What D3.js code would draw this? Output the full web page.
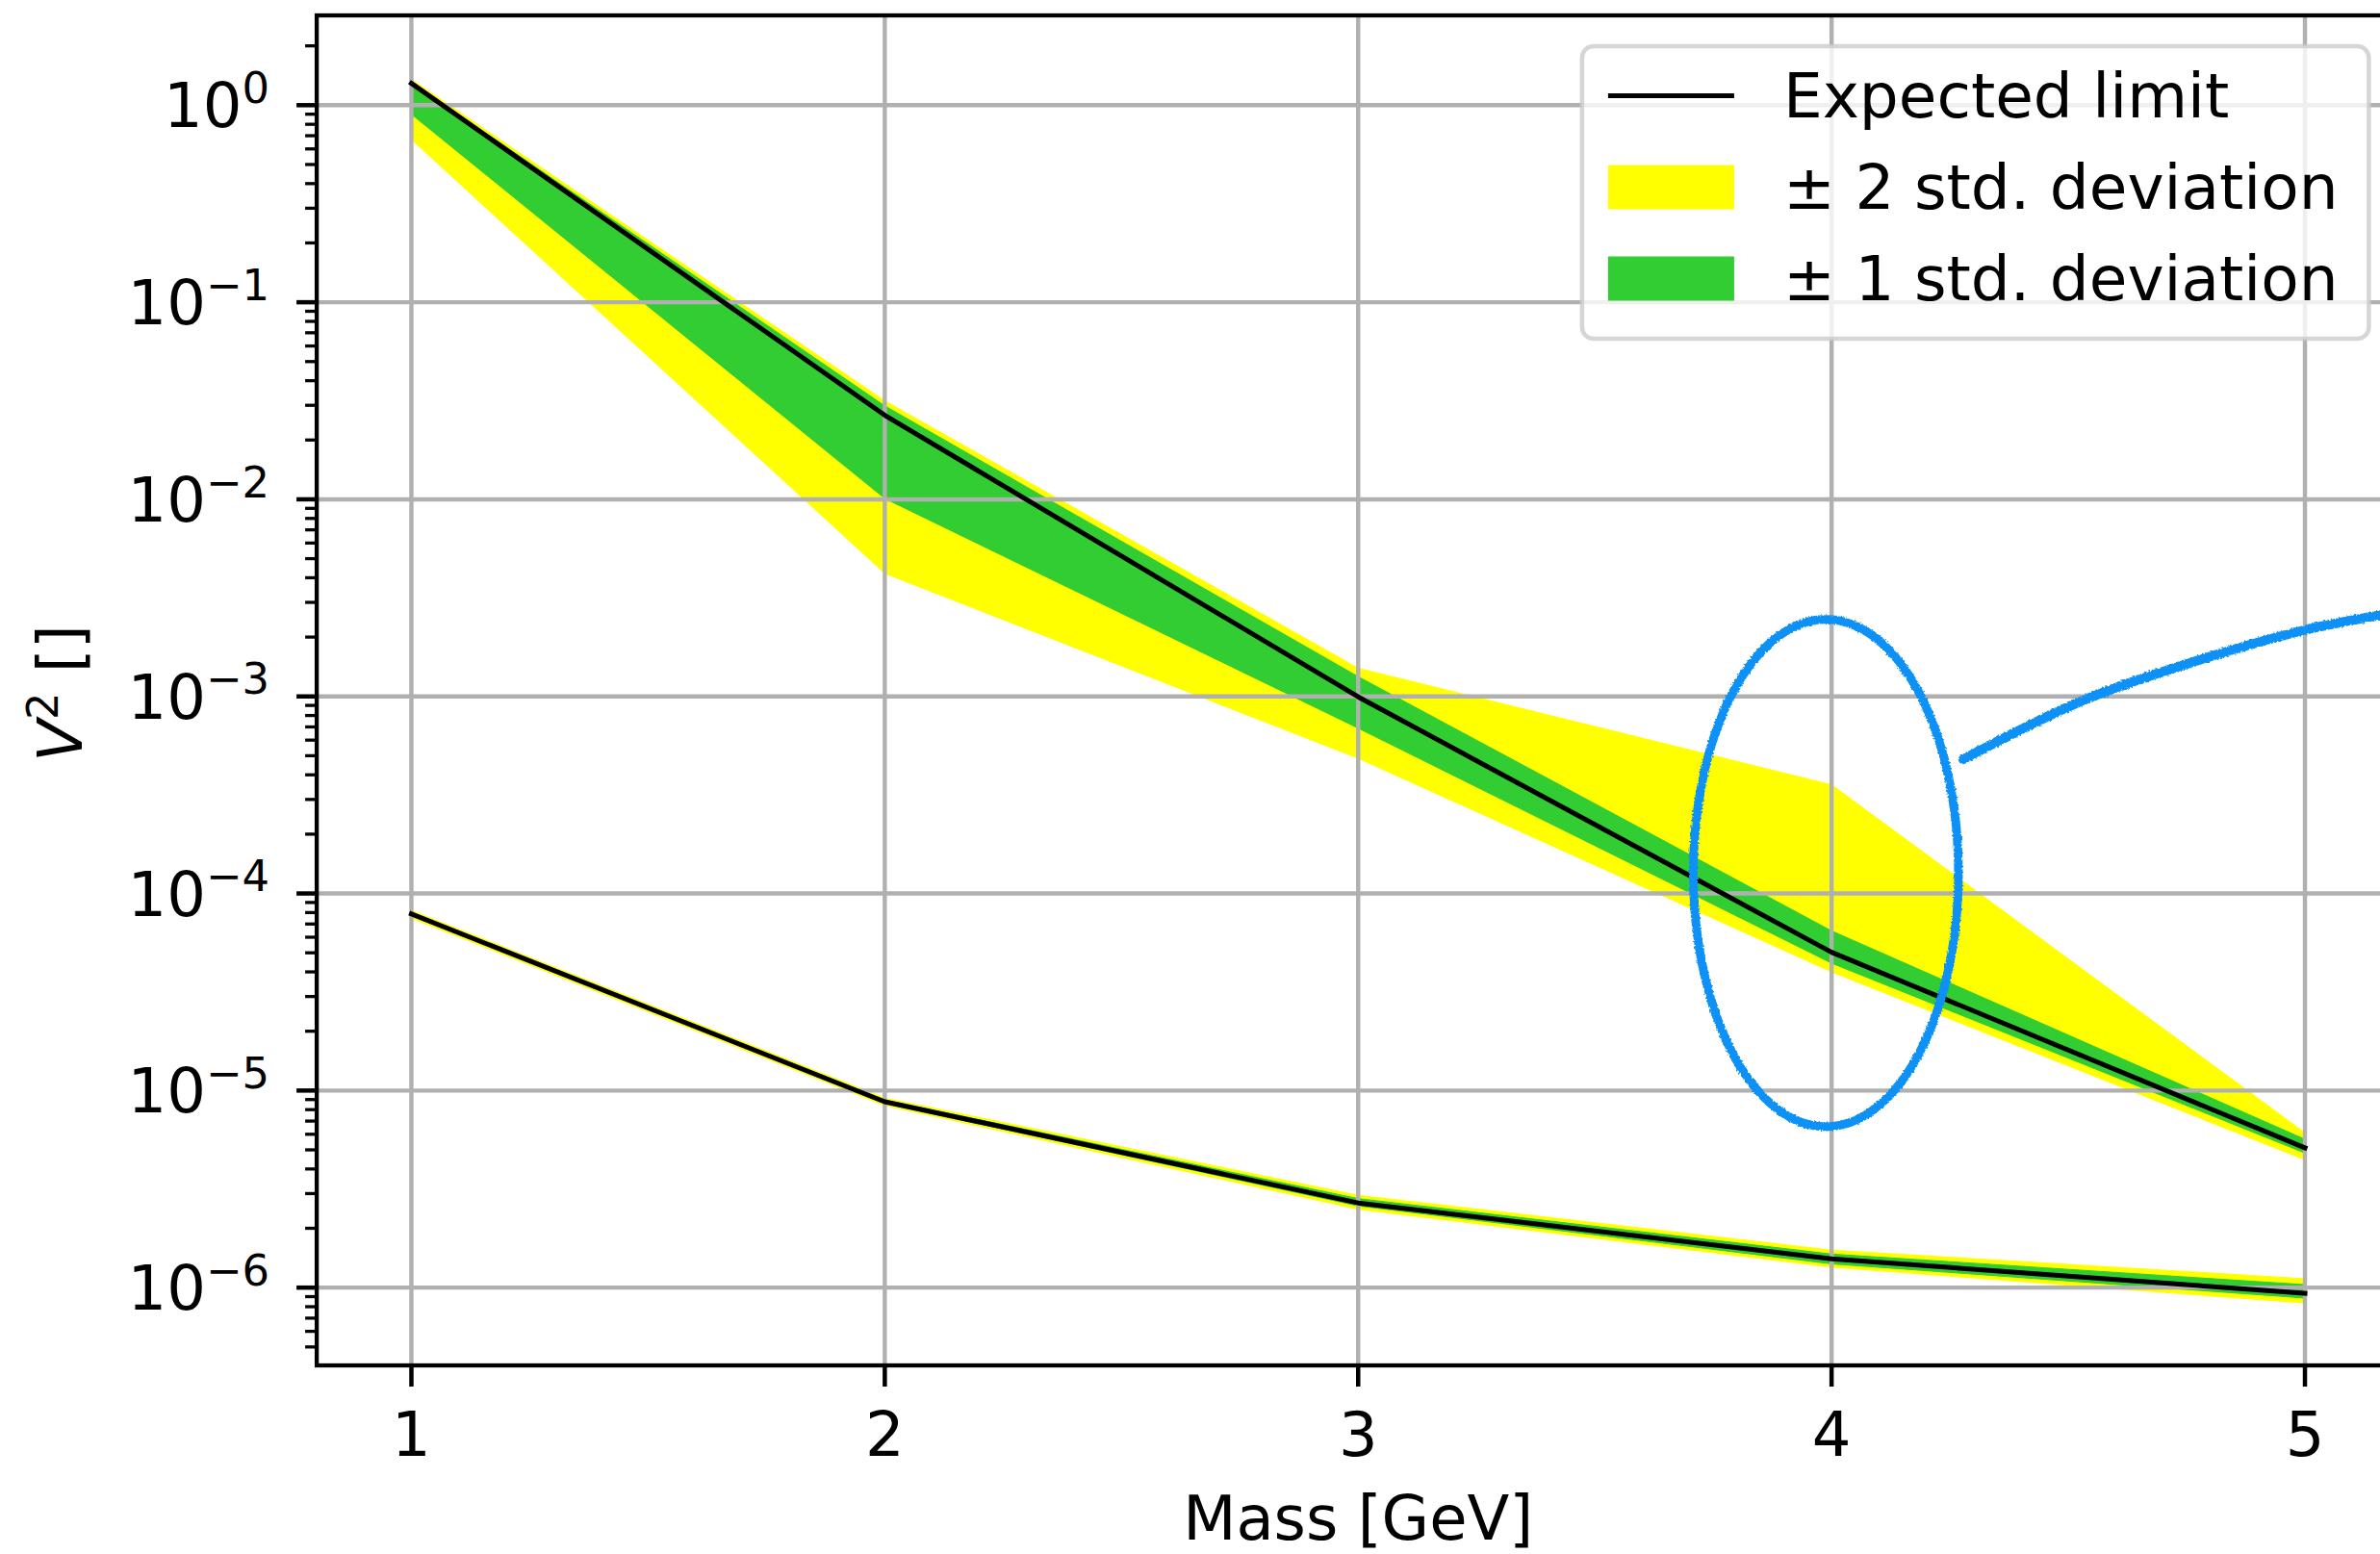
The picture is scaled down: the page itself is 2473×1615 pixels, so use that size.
<!DOCTYPE html>
<html><head><meta charset="utf-8">
<script src="https://cdn.jsdelivr.net/npm/d3@7"></script>
<style>
body{margin:0;background:#fff;overflow:hidden}
svg{display:block}
text{font-family:"DejaVu Sans",sans-serif;fill:#000}
</style>
</head><body>
<svg id="chart" width="2473" height="1615"></svg>
<script>
// ---------------- data ----------------
const mass = [1, 2, 3, 4, 5];
// upper set (labelled in legend)
const expectedA = [1.29, 0.0267, 9.95e-4, 5.03e-5, 5.12e-6];
const plus1A    = [1.31, 0.0298, 1.26e-3, 6.46e-5, 5.66e-6];
const minus1A   = [0.90, 0.0101, 6.9e-4, 4.43e-5, 4.82e-6];
const plus2A    = [1.35, 0.0316, 1.39e-3, 3.56e-4, 6.1e-6];
const minus2A   = [0.67, 0.00421, 4.85e-4, 4.0e-5, 4.45e-6];
// lower set
const expectedB = [7.87e-5, 8.77e-6, 2.69e-6, 1.40e-6, 9.35e-7];
const plus1B    = [8.0e-5, 8.95e-6, 2.83e-6, 1.48e-6, 1.035e-6];
const minus1B   = [7.75e-5, 8.6e-6, 2.60e-6, 1.32e-6, 8.85e-7];
const plus2B    = [8.2e-5, 9.15e-6, 2.94e-6, 1.55e-6, 1.11e-6];
const minus2B   = [7.5e-5, 8.4e-6, 2.50e-6, 1.27e-6, 8.35e-7];

const xTicks = [1, 2, 3, 4, 5];
const yDecades = [0, -1, -2, -3, -4, -5, -6];
const legendLabels = ["Expected limit", "\u00b1 2 std. deviation", "\u00b1 1 std. deviation"];
const xLabelText = "Mass [GeV]";

// hand-drawn blue marker, in data coordinates (mass, V^2)
const markEllipseCenter = [3.988, 1.27e-4];
const markEllipseHalfMass = 0.28;
const markEllipseHalfDecades = 1.287;
const markCurveMass  = [4.278, 4.529, 4.773, 4.996, 5.158, 5.26];
const markCurveValue = [4.79e-4, 9.5e-4, 1.52e-3, 2.16e-3, 2.58e-3, 2.85e-3];

// ---------------- layout ----------------
const W = 2473, H = 1615;
const pL = 329.1, pR = 2493.4, pT = 16, pB = 1419;
const FS = 64, SUP = 44.8;
const YELLOW = "#ffff00", GREEN = "#32cd32", GRID = "#b0b0b0";

const svg = d3.select("#chart");
const x = d3.scaleLinear().domain([0.8, 5.2]).range([pL, pR]);
const y = d3.scaleLog().domain([4.03e-7, 2.855]).range([pB, pT]);

const defs = svg.append("defs");
defs.append("clipPath").attr("id", "plotclip").append("rect")
  .attr("x", pL).attr("y", pT).attr("width", pR - pL).attr("height", pB - pT);
const f = defs.append("filter").attr("id", "rough")
  .attr("filterUnits", "userSpaceOnUse").attr("x", 0).attr("y", 0).attr("width", W).attr("height", H);
f.append("feTurbulence").attr("type", "fractalNoise").attr("baseFrequency", 0.5)
  .attr("numOctaves", 2).attr("seed", 3).attr("result", "noise");
f.append("feDisplacementMap").attr("in", "SourceGraphic").attr("in2", "noise")
  .attr("scale", 3.5).attr("xChannelSelector", "R").attr("yChannelSelector", "G");

svg.append("rect").attr("width", W).attr("height", H).attr("fill", "#fff");

const plot = svg.append("g").attr("clip-path", "url(#plotclip)");

function bandData(lo, hi) { return mass.map((m, i) => ({ m, lo: lo[i], hi: hi[i] })); }
const area = d3.area().x(d => x(d.m)).y0(d => y(d.lo)).y1(d => y(d.hi));
const line = d3.line().x(d => x(d.m)).y(d => y(d.v));

// bands
[[minus2A, plus2A, YELLOW], [minus1A, plus1A, GREEN], [minus2B, plus2B, YELLOW], [minus1B, plus1B, GREEN]]
  .forEach(([lo, hi, c]) => {
    plot.append("path").datum(bandData(lo, hi)).attr("d", area)
      .attr("fill", c).attr("stroke", c).attr("stroke-width", 1);
  });

// grid
const grid = plot.append("g").attr("stroke", GRID).attr("stroke-width", 4.4);
xTicks.forEach(t => grid.append("line").attr("x1", x(t)).attr("x2", x(t)).attr("y1", pT).attr("y2", pB));
yDecades.forEach(k => grid.append("line").attr("x1", pL).attr("x2", pR)
  .attr("y1", y(Math.pow(10, k))).attr("y2", y(Math.pow(10, k))));

// expected lines
[expectedA, expectedB].forEach(arr => {
  plot.append("path").datum(mass.map((m, i) => ({ m, v: arr[i] }))).attr("d", line)
    .attr("fill", "none").attr("stroke", "#000").attr("stroke-width", 5)
    .attr("stroke-linejoin", "round").attr("stroke-linecap", "square");
});

// spines
svg.append("rect").attr("x", pL).attr("y", pT).attr("width", pR - pL).attr("height", pB - pT)
  .attr("fill", "none").attr("stroke", "#000").attr("stroke-width", 4.3).attr("stroke-linejoin", "miter");

// x ticks & labels
xTicks.forEach(t => {
  svg.append("line").attr("x1", x(t)).attr("x2", x(t)).attr("y1", pB).attr("y2", pB + 22)
    .attr("stroke", "#000").attr("stroke-width", 4.5);
  svg.append("text").attr("x", x(t)).attr("y", 1513).attr("text-anchor", "middle")
    .attr("font-size", FS).text(String(t));
});

// y ticks
const [ymin, ymax] = y.domain();
for (let k = -8; k <= 1; k++) {
  for (let m = 1; m <= 9; m++) {
    const v = m * Math.pow(10, k);
    if (v < ymin * 0.999 || v > ymax) continue;
    const major = m === 1;
    svg.append("line").attr("x1", pL - (major ? 21 : 12)).attr("x2", pL)
      .attr("y1", y(v)).attr("y2", y(v))
      .attr("stroke", "#000").attr("stroke-width", major ? 4.5 : 3.3);
  }
}
yDecades.forEach(k => {
  const t = svg.append("text").attr("x", 280).attr("y", y(Math.pow(10, k)) + 23)
    .attr("text-anchor", "end").attr("font-size", FS);
  t.append("tspan").text("10");
  t.append("tspan").attr("font-size", SUP).attr("dy", -25.4)
    .text(k < 0 ? "\u2212" + Math.abs(k) : String(k));
});

// axis labels
svg.append("text").attr("x", (pL + pR) / 2).attr("y", 1600).attr("text-anchor", "middle")
  .attr("font-size", FS).text(xLabelText);
const yl = svg.append("text").attr("transform", `translate(85,${(pT + pB) / 2 + 3}) rotate(-90)`)
  .attr("text-anchor", "middle").attr("font-size", FS);
yl.append("tspan").attr("font-style", "italic").text("V");
yl.append("tspan").attr("font-size", SUP).attr("dy", -25).text("2");
yl.append("tspan").attr("dy", 25).text("\u00a0[]");

// legend
const lgW = 817.5, lgH = 304;
const lgX = pR - 32 - lgW, lgY = pT + 32;
const lg = svg.append("g");
lg.append("rect").attr("x", lgX).attr("y", lgY).attr("width", lgW).attr("height", lgH)
  .attr("rx", 12).attr("ry", 12)
  .attr("fill", "#fff").attr("fill-opacity", 0.8)
  .attr("stroke", "#cccccc").attr("stroke-opacity", 0.8).attr("stroke-width", 4.5);
const rowC = [lgY + 51.5, lgY + 146.5, lgY + 241.5];
const hx0 = lgX + 27, hx1 = lgX + 158;
lg.append("line").attr("x1", hx0).attr("x2", hx1).attr("y1", rowC[0]).attr("y2", rowC[0])
  .attr("stroke", "#000").attr("stroke-width", 5);
lg.append("rect").attr("x", hx0).attr("y", rowC[1] - 23).attr("width", hx1 - hx0).attr("height", 46).attr("fill", YELLOW);
lg.append("rect").attr("x", hx0).attr("y", rowC[2] - 23).attr("width", hx1 - hx0).attr("height", 46).attr("fill", GREEN);
legendLabels.forEach((s, i) => {
  lg.append("text").attr("x", lgX + 209).attr("y", rowC[i] + 22).attr("font-size", 64.5).text(s);
});

// hand-drawn blue marker
const BLUE = "#0a91f7";
const mark = svg.append("g").attr("filter", "url(#rough)").attr("fill", "none")
  .attr("stroke", BLUE).attr("stroke-linecap", "round");
const lc = Math.log10(markEllipseCenter[1]);
const ell = d3.range(0, 360, 3).map(a => {
  const t = a * Math.PI / 180;
  return [x(markEllipseCenter[0] + markEllipseHalfMass * Math.cos(t)),
          y(Math.pow(10, lc + markEllipseHalfDecades * Math.sin(t)))];
});
mark.append("path").attr("d", d3.line().curve(d3.curveCatmullRomClosed)(ell))
  .attr("stroke-width", 9);
mark.append("path")
  .attr("d", d3.line().curve(d3.curveCatmullRom)(markCurveMass.map((m, i) => [x(m), y(markCurveValue[i])])))
  .attr("stroke-width", 10);
</script>
</body></html>
